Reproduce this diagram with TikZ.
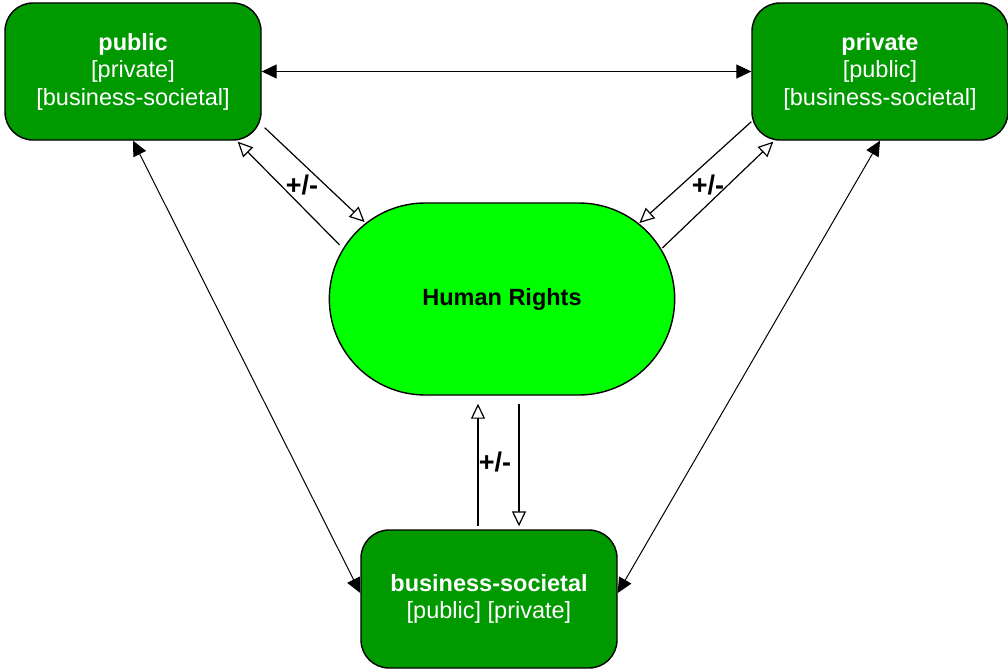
\documentclass[tikz,border=0pt]{standalone}
\usepackage{fontspec}
\setmainfont{Liberation Sans}
\usetikzlibrary{arrows.meta,shapes.misc,calc}
\definecolor{boxgreen}{RGB}{0,153,0}
\definecolor{hrgreen}{RGB}{0,255,0}
\begin{document}
\begin{tikzpicture}[x=1pt,y=-1pt,
 box/.style={draw=black, line width=1.4pt, fill=boxgreen, rounded corners=28pt, minimum width=256pt, minimum height=137pt, align=center, text=white, font=\fontsize{23.5}{27.5}\selectfont, text depth=5pt},
 hr/.style={rounded rectangle, draw=black, line width=1.4pt, fill=hrgreen, minimum width=352pt, minimum height=192pt, font=\fontsize{23.5}{28}\selectfont\bfseries},
 both/.style={line width=1pt, {Triangle[length=15pt,width=14pt]}-{Triangle[length=15pt,width=14pt]}},
 inf/.style={line width=1.2pt, -{Triangle[open,length=15pt,width=14pt,fill=white]}},
 lbl/.style={font=\fontsize{27}{32}\selectfont\bfseries}]
\useasboundingbox (0,0) rectangle (1008,669);
\node[box] (pub) at (133,71.5) {\textbf{public}\\{[private]}\\{[business-societal]}};
\node[box] (priv) at (880,71.5) {\textbf{private}\\{[public]}\\{[business-societal]}};
\node[box, minimum height=138pt] (bus) at (489,599) {\textbf{business-societal}\\{[public] [private]}};
\node[hr] (hr) at (502,299) {Human Rights};
\draw[both] (pub) -- (priv);
\draw[both] (pub.south) -- ($(bus.west)+(0,-6)$);
\draw[both] (priv.south) -- ($(bus.east)+(0,-6)$);
\draw[inf] ($(pub.south east)+(3,-13)$) -- ($(hr.west)+(36,-77)$);
\draw[inf] ($(hr.west)+(11,-54)$) -- ($(pub.south east)+(-24,1)$);
\draw[inf] ($(priv.south west)+(0,-19)$) -- ($(hr.east)+(-36,-76)$);
\draw[inf] ($(hr.east)+(-13,-51)$) -- ($(priv.south west)+(22,1)$);
\draw[inf] ($(bus.north)+(-11,-3)$) -- ($(hr.south)+(-24,8)$);
\draw[inf] ($(hr.south)+(17,8)$) -- ($(bus.north)+(30,-3)$);
\node[lbl] (l1) at (302,185) {+/-};
\node[lbl] (l2) at (708,185) {+/-};
\node[lbl] (l3) at (495,462) {+/-};
\end{tikzpicture}
\end{document}
